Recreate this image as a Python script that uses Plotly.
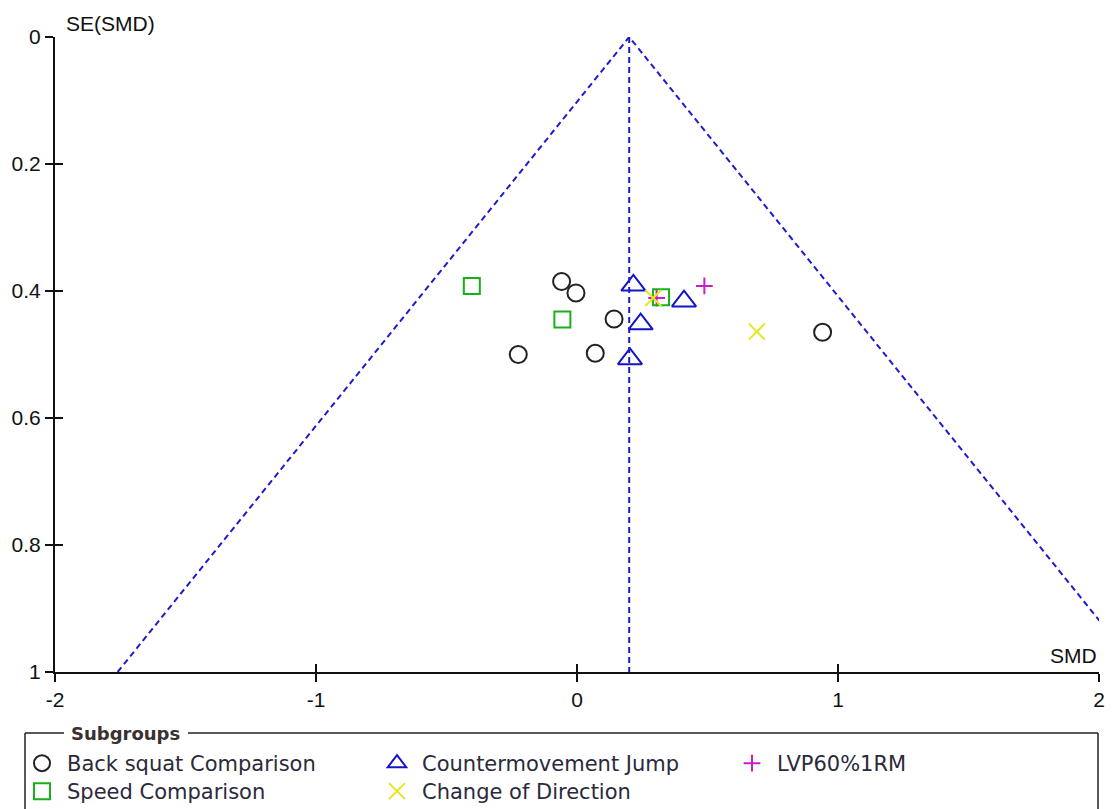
import plotly.graph_objects as go

# ---- data ----
back_squat_smd = [-0.059, -0.004, 0.142, -0.225, 0.070, 0.941]
back_squat_se = [0.385, 0.403, 0.444, 0.500, 0.498, 0.465]
speed_smd = [-0.403, -0.056, 0.322]
speed_se = [0.392, 0.445, 0.410]
cmj_smd = [0.216, 0.410, 0.244, 0.203]
cmj_se = [0.391, 0.416, 0.452, 0.507]
lvp_smd = [0.305, 0.488]
lvp_se = [0.411, 0.392]
cod_smd = [0.292, 0.689]
cod_se = [0.411, 0.464]
pooled_smd = 0.20
se_max = 1.0
z_crit = 1.96
x_ticks = [-2, -1, 0, 1, 2]
y_ticks = [0, 0.2, 0.4, 0.6, 0.8, 1]
y_tick_text = ["0", "0.2", "0.4", "0.6", "0.8", "1"]

# ---- layout geometry (pixels) ----
W, H = 1113, 809
L, R, T, B = 55, 14, 37, 137
PW, PH = W - L - R, H - T - B


def px(xp):
    return (xp - L) / PW


def py(yp):
    return (H - B - yp) / PH


FONT = "Liberation Sans, Arial, sans-serif"
LFONT = "DejaVu Sans, Verdana, sans-serif"
BLUE = "#1c1ccc"

fig = go.Figure()

# funnel (on overlay axes so the crossing ticks are drawn)
fig.add_trace(go.Scatter(
    x=[pooled_smd - z_crit * se_max, pooled_smd, pooled_smd + z_crit * se_max],
    y=[se_max, 0, se_max], mode="lines", xaxis="x2", yaxis="y2",
    line=dict(color=BLUE, width=2, dash="6px,4px"), showlegend=False, hoverinfo="skip"))
fig.add_trace(go.Scatter(
    x=[pooled_smd, pooled_smd], y=[0, se_max], mode="lines", xaxis="x2", yaxis="y2",
    line=dict(color=BLUE, width=2, dash="6px,4px"), showlegend=False, hoverinfo="skip"))

fig.add_trace(go.Scatter(x=back_squat_smd, y=back_squat_se, mode="markers",
                         name="Back squat Comparison", legend="legend",
                         marker=dict(symbol="circle-open", size=17, color="#222222",
                                     line=dict(width=2, color="#222222"))))
fig.add_trace(go.Scatter(x=cmj_smd, y=cmj_se, mode="markers",
                         name="Countermovement Jump", legend="legend",
                         marker=dict(symbol="triangle-up-open", size=21, color="#1414c8",
                                     line=dict(width=2, color="#1414c8"))))
fig.add_trace(go.Scatter(x=lvp_smd, y=lvp_se, mode="markers",
                         name="LVP60%1RM", legend="legend",
                         marker=dict(symbol="cross-thin-open", size=12, color="#c81ec8",
                                     line=dict(width=2, color="#c81ec8"))))
fig.add_trace(go.Scatter(x=speed_smd, y=speed_se, mode="markers",
                         name="Speed Comparison", legend="legend2",
                         marker=dict(symbol="square-open", size=16, color="#18b018",
                                     line=dict(width=2, color="#18b018"))))
fig.add_trace(go.Scatter(x=cod_smd, y=cod_se, mode="markers",
                         name="Change of Direction", legend="legend2",
                         marker=dict(symbol="x-thin-open", size=16, color="#e6e61e",
                                     line=dict(width=2, color="#e6e61e"))))

axis_common = dict(showgrid=False, zeroline=False, ticklen=8, tickwidth=1.5,
                   tickcolor="#111111")

legend_common = dict(orientation="h", xanchor="left", yanchor="top",
                     entrywidth=300, entrywidthmode="pixels", itemwidth=40,
                     font=dict(family=LFONT, size=21, color="#2a2a3a"),
                     bgcolor="rgba(0,0,0,0)", borderwidth=0, traceorder="normal",
                     itemclick=False, itemdoubleclick=False)

fig.update_layout(
    width=W, height=H,
    margin=dict(l=L, r=R, t=T, b=B, autoexpand=False),
    paper_bgcolor="white", plot_bgcolor="white",
    font=dict(family=FONT, size=21, color="#111111"),
    xaxis=dict(range=[-2, 2], tickvals=x_ticks, ticktext=[str(v) for v in x_ticks],
               ticks="outside", showline=True, linecolor="#111111", linewidth=2,
               automargin=False,
               tickfont=dict(family=FONT, size=21, color="#111111"), **axis_common),
    yaxis=dict(range=[1, 0], tickvals=y_ticks, ticktext=y_tick_text,
               ticks="outside", showline=True, linecolor="#111111", linewidth=2,
               automargin=False,
               tickfont=dict(family=FONT, size=21, color="#111111"), **axis_common),
    xaxis2=dict(range=[-2, 2], tickvals=x_ticks, overlaying="x", anchor="y2",
                ticks="inside", showticklabels=False, showline=False, automargin=False,
                **axis_common),
    yaxis2=dict(range=[1, 0], tickvals=y_ticks, overlaying="y", anchor="x2",
                ticks="inside", showticklabels=False, showline=False, automargin=False,
                **axis_common),
    showlegend=True,
    legend=dict(x=px(17), y=py(743), **legend_common),
    legend2=dict(x=px(17), y=py(771), **legend_common),
)

# axis titles
fig.add_annotation(text="SE(SMD)", xref="paper", yref="paper", x=px(64), y=py(24),
                   xanchor="left", yanchor="middle", showarrow=False,
                   font=dict(family=FONT, size=21, color="#111111"))
fig.add_annotation(text="SMD", xref="paper", yref="paper", x=px(1099), y=py(655),
                   xanchor="right", yanchor="middle", showarrow=False,
                   font=dict(family=FONT, size=21, color="#111111"))

# legend frame with interrupted top border
frame = dict(color="#222222", width=1.5)
for x0, y0, x1, y1 in [(25, 733, 64, 733), (188, 733, 1098, 733),
                       (25, 733, 25, 815), (1098, 733, 1098, 815)]:
    fig.add_shape(type="line", xref="paper", yref="paper",
                  x0=px(x0), y0=py(y0), x1=px(x1), y1=py(y1), line=frame)
fig.add_annotation(text="<b>Subgroups</b>", xref="paper", yref="paper", x=px(69), y=py(733),
                   xanchor="left", yanchor="middle", showarrow=False,
                   font=dict(family=LFONT, size=18, color="#3a3030"))

fig.write_html("out.html", config={"displayModeBar": False},
               post_script="document.body.style.margin='0';document.body.style.overflow='hidden';")
